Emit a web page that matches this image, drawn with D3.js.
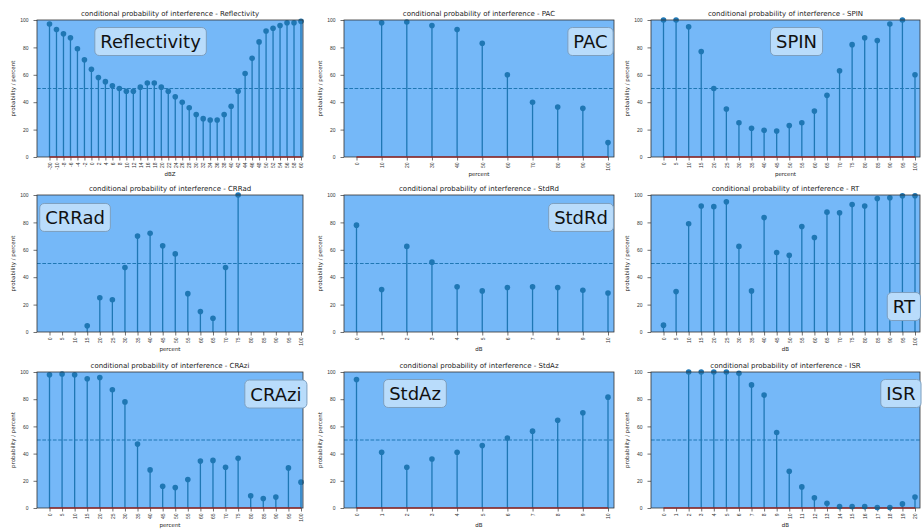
<!DOCTYPE html>
<html>
<head>
<meta charset="utf-8">
<script src="https://cdn.jsdelivr.net/npm/d3@7"></script>
<style>
  body { margin: 0; background: #fff; }
  svg { display: block; font-family: "DejaVu Sans", sans-serif; }
</style>
</head>
<body>
<div class="graph"></div>
<script>
(() => {
// ---- data ----
var reflectivityCats = ['-30','-10','-8','-6','-4','-2','0','2','4','6','8','10','12','14','16','18','20','22','24','26','28','30','32','34','36','38','40','42','44','46','48','50','52','54','56','58','60'];
var reflectivityVals = [97,93,90,87,79,71,64,58,55,52,50,48,48,51,54,54,51,48,44,40,36,31,28,27,27,31,37,48,61,72,84,92,94,96,98,98,99];

var pacCats = ['0','10','20','30','40','50','60','70','80','90','100'];
var pacVals = [null,98,98.5,96,93,83,60,40,36.5,35.5,10.5];

var percentCats = ['0','5','10','15','20','25','30','35','40','45','50','55','60','65','70','75','80','85','90','95','100'];
var spinVals = [100,100,95,77,50,35,25,21,19.5,19,23,25,33.5,45,63,82,87,85,97,100,60];
var crradVals = [null,null,null,4.5,25,23.5,47,70,72,63,57,28,15,10,47,100,null,null,null,null,null];

var dbCats10 = ['0','1','2','3','4','5','6','7','8','9','10'];
var stdrdVals = [78,31,62.5,51,33,30,32.5,33,32.5,30.5,28.5];

var rtVals = [5,29.5,79,92,91.5,95,62.5,30,83.5,58,56,77,69,87.5,87,93,92,97.5,98,99.5,99.5];
var crazIVals = [98,98.5,98,95,96,87,78,47,28,16,15,21,34.5,35,30,36.5,9,7,8,29.5,19];
var stdazVals = [94.5,41,30,36,41,46,51.5,56.5,64.5,70,81.5];

var dbCats20 = ['0','1','2','3','4','5','6','7','8','9','10','11','12','13','14','15','16','17','18','19','20'];
var isrVals = [null,null,100,100,100,100,99,90.5,83,55.5,27,15.5,7.5,3.5,1,1,1,0.3,0.3,3,8];

var yTicks = [0,20,40,60,80,100];

// name, categories, values, x label, legend centre (axes fraction), baseline shown
var panels = [
  {name:'Reflectivity', cats:reflectivityCats, vals:reflectivityVals, xlabel:'dBZ',     lx:0.427, ly:0.157, base:true},
  {name:'PAC',          cats:pacCats,          vals:pacVals,          xlabel:'percent', lx:0.913, ly:0.157, base:true},
  {name:'SPIN',         cats:percentCats,      vals:spinVals,         xlabel:'percent', lx:0.541, ly:0.157, base:true},
  {name:'CRRad',        cats:percentCats,      vals:crradVals,        xlabel:'percent', lx:0.143, ly:0.164, base:false},
  {name:'StdRd',        cats:dbCats10,         vals:stdrdVals,        xlabel:'dB',      lx:0.878, ly:0.164, base:false},
  {name:'RT',           cats:percentCats,      vals:rtVals,           xlabel:'dB',      lx:0.940, ly:0.814, base:false},
  {name:'CRAzi',        cats:percentCats,      vals:crazIVals,        xlabel:'percent', lx:0.898, ly:0.162, base:true},
  {name:'StdAz',        cats:dbCats10,         vals:stdazVals,        xlabel:'dB',      lx:0.263, ly:0.158, base:true},
  {name:'ISR',          cats:dbCats20,         vals:isrVals,          xlabel:'dB',      lx:0.929, ly:0.158, base:true}
];

// ---- layout ----
var width = 922, height = 529;
var colLeft = [37, 344, 651], colRight = [303, 614, 920], padRight = [2, 6, 5];
var rowTop = [20, 195, 372], rowBottom = [157, 332, 508];
var C0 = '#1f77b4';

var svg = d3.select('div.graph')
    .append('svg')
        .attr('width', width)
        .attr('height', height);

panels.forEach(function(p, i) {
    var col = i % 3, row = Math.floor(i / 3);
    var left = colLeft[col], right = colRight[col], top = rowTop[row], bottom = rowBottom[row];

    var x = d3.scalePoint()
        .domain(p.cats)
        .range([left + 12.5, right - padRight[col]]);

    var y = d3.scaleLinear()
        .domain([0, 100])
        .range([bottom, top]);

    var g = svg.append('g');

    g.append('rect')
        .attr('x', left).attr('y', top)
        .attr('width', right - left).attr('height', bottom - top)
        .attr('fill', '#75b8f8');

    // y axis
    var ya = g.append('g')
        .attr('transform', 'translate(' + left + ',0)')
        .call(d3.axisLeft(y).tickValues(yTicks).tickSize(3.5).tickPadding(5));
    ya.select('.domain').remove();

    // x axis
    var xa = g.append('g')
        .attr('transform', 'translate(0,' + bottom + ')')
        .call(d3.axisBottom(x).tickSize(3.5).tickSizeOuter(0));
    xa.select('.domain').remove();
    xa.selectAll('text')
        .attr('transform', 'rotate(-90)')
        .attr('x', -5.5).attr('y', 0).attr('dy', '0.35em')
        .style('text-anchor', 'end');

    g.selectAll('.tick text').attr('font-size', 5).attr('fill', '#333');
    g.selectAll('.tick line').attr('stroke', '#333').attr('stroke-width', 0.7);

    // 50 % line
    g.append('line')
        .attr('x1', left).attr('x2', right)
        .attr('y1', y(50)).attr('y2', y(50))
        .attr('stroke', C0).attr('stroke-width', 1)
        .attr('stroke-dasharray', '3.7,1.6');

    var pts = p.cats.map(function(c, k) { return {c: c, v: p.vals[k]}; })
        .filter(function(d) { return d.v !== null; });

    g.selectAll('line.stem')
        .data(pts)
        .enter()
        .append('line')
            .attr('class', 'stem')
            .attr('x1', function(d) { return x(d.c); })
            .attr('x2', function(d) { return x(d.c); })
            .attr('y1', y(0))
            .attr('y2', function(d) { return y(d.v); })
            .attr('stroke', C0)
            .attr('stroke-width', 1.3);

    if (p.base) {
        g.append('line')
            .attr('x1', x(p.cats[0])).attr('x2', x(p.cats[p.cats.length - 1]))
            .attr('y1', y(0)).attr('y2', y(0))
            .attr('stroke', '#d62728').attr('stroke-width', 1.3);
    }

    g.selectAll('circle')
        .data(pts)
        .enter()
        .append('circle')
            .attr('cx', function(d) { return x(d.c); })
            .attr('cy', function(d) { return y(d.v); })
            .attr('r', 2.8)
            .attr('fill', C0);

    // frame
    g.append('rect')
        .attr('x', left).attr('y', top)
        .attr('width', right - left).attr('height', bottom - top)
        .attr('fill', 'none')
        .attr('stroke', '#333').attr('stroke-width', 0.8);

    // titles
    g.append('text')
        .attr('x', (left + right) / 2).attr('y', top - 4)
        .attr('text-anchor', 'middle')
        .attr('font-size', 7)
        .attr('fill', '#222')
        .text('conditional probability of interference - ' + p.name);

    g.append('text')
        .attr('transform', 'translate(' + (left - 22) + ',' + (top + bottom) / 2 + ') rotate(-90)')
        .attr('text-anchor', 'middle')
        .attr('font-size', 5.5)
        .attr('fill', '#222')
        .text('probability / percent');

    g.append('text')
        .attr('x', (left + right) / 2).attr('y', bottom + 19)
        .attr('text-anchor', 'middle')
        .attr('font-size', 5.5)
        .attr('fill', '#222')
        .text(p.xlabel);

    // name box
    var cx = left + p.lx * (right - left), cy = top + p.ly * (bottom - top);
    var lg = g.append('g').attr('transform', 'translate(' + cx + ',' + cy + ')');
    var box = lg.append('rect');
    var t = lg.append('text')
        .attr('text-anchor', 'middle')
        .attr('dy', '0.36em')
        .attr('font-size', 18)
        .attr('fill', '#111')
        .text(p.name);
    var tw = t.node().getComputedTextLength();
    box.attr('x', -tw / 2 - 5.5).attr('y', -14)
        .attr('width', tw + 11).attr('height', 28)
        .attr('rx', 4.5)
        .attr('fill', '#b9dcfb')
        .attr('stroke', '#7d9fbf')
        .attr('stroke-width', 1);
});
})();
</script>
</body>
</html>
